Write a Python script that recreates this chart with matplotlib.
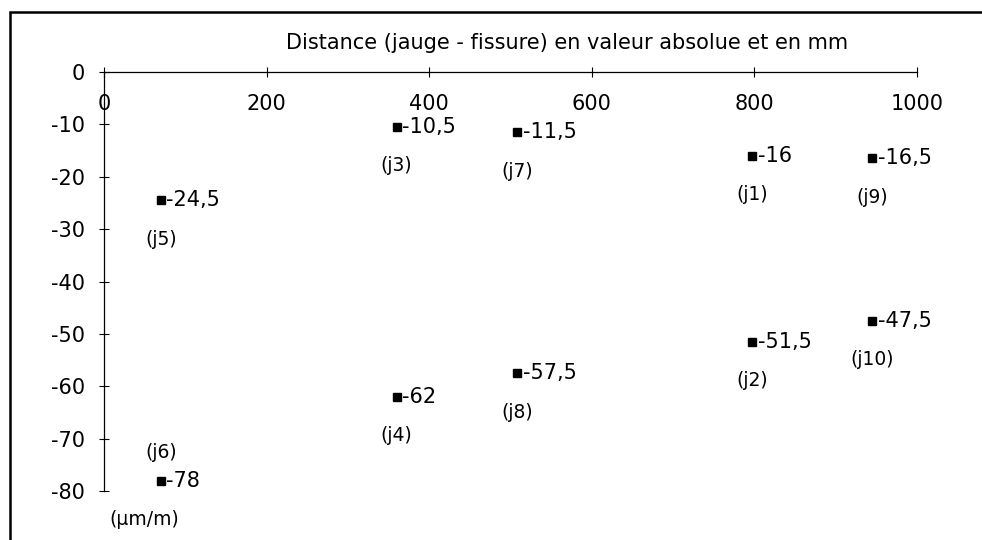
import matplotlib.pyplot as plt
from matplotlib.patches import Rectangle

plt.rcParams['font.family'] = ['DejaVu Sans']
plt.rcParams['axes.unicode_minus'] = False

# Gauges: distance to the crack (mm) and measured strain (um/m)
gauges = ['j1', 'j2', 'j3', 'j4', 'j5', 'j6', 'j7', 'j8', 'j9', 'j10']
distance = [797, 797, 360, 360, 70, 70, 508, 508, 945, 945]
strain = [-16, -51.5, -10.5, -62, -24.5, -78, -11.5, -57.5, -16.5, -47.5]
x_ticks = [0, 200, 400, 600, 800, 1000]
y_ticks = [0, -10, -20, -30, -40, -50, -60, -70, -80]


def fmt(v):
    return ('%g' % v).replace('.', ',')


fig = plt.figure(figsize=(9.82, 5.4), dpi=100)
ax = fig.add_axes([104 / 982, 49 / 540, 813 / 982, 419 / 540])

ax.plot(distance, strain, 's', color='black', markersize=5.5, linestyle='none')

for name, x, y in zip(gauges, distance, strain):
    ax.annotate(fmt(y), (x, y), xytext=(4, 0), textcoords='offset points',
                ha='left', va='center', fontsize=15)
    dy = 20 if name == 'j6' else -28
    ax.annotate('(%s)' % name, (x, y), xytext=(0, dy), textcoords='offset points',
                ha='center', va='center', fontsize=13.5)

ax.set_xlim(0, 1000)
ax.set_ylim(-80, 0)
ax.spines['right'].set_visible(False)
ax.spines['bottom'].set_visible(False)
ax.spines['top'].set_linewidth(0.9)
ax.spines['left'].set_linewidth(0.9)

ax.set_xticks(x_ticks)
ax.set_yticks(y_ticks)
ax.xaxis.set_ticks_position('top')
ax.tick_params(axis='x', direction='inout', length=7, width=0.8, pad=-34, labelsize=15)
ax.tick_params(axis='y', direction='inout', length=7, width=0.8, pad=10, labelsize=15)

ax.xaxis.set_label_position('top')
ax.set_xlabel('Distance (jauge - fissure) en valeur absolue et en mm', fontsize=15)
ax.xaxis.set_label_coords(0.57, 1.055)
ax.set_ylabel('(\u03bcm/m)', fontsize=13.5, rotation=0)
ax.yaxis.set_label_coords(0.05, -0.09)

# outer frame of the original figure
fig.patches.append(Rectangle((10 / 982, -0.1), 1.2, 1.1 - 12 / 540, transform=fig.transFigure,
                             fill=False, edgecolor='black', linewidth=1.8))

fig.savefig('out.png', dpi=100)
